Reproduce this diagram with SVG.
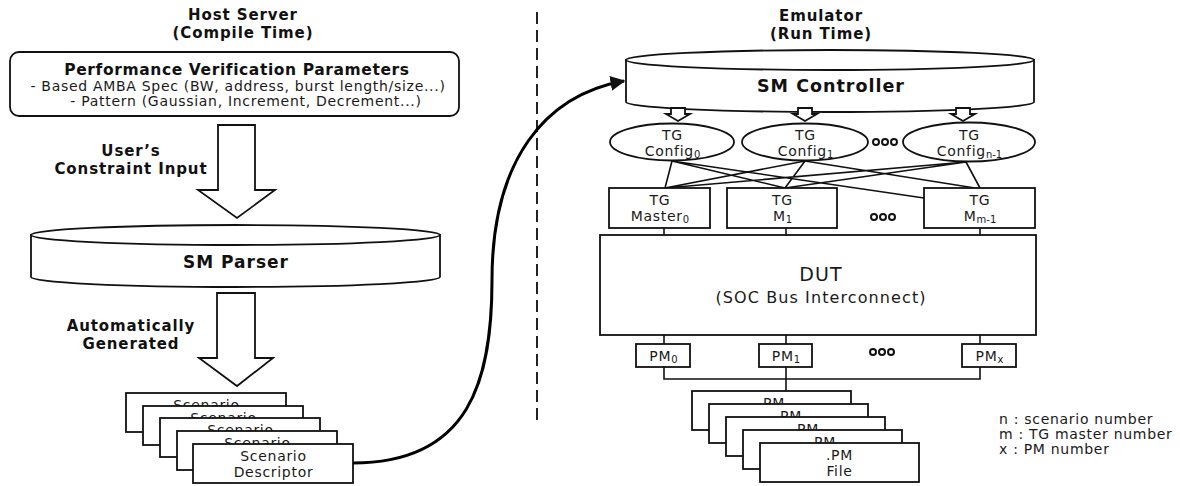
<svg xmlns="http://www.w3.org/2000/svg" width="1180" height="486" viewBox="0 0 1180 486">
<defs>
<style>
text{font-family:"DejaVu Sans","Liberation Sans",sans-serif;fill:#1a1a1a;letter-spacing:0.7px}
.b{font-weight:bold;fill:#111;letter-spacing:0.9px}
.big{letter-spacing:1.1px}
.box{fill:#fff;stroke:#111;stroke-width:1.8}
.ln{fill:none;stroke:#111;stroke-width:1.6}
.dots circle{fill:none;stroke:#111;stroke-width:2}
.t14{font-size:14px}
.sub{font-size:10px;letter-spacing:0}
</style>
<marker id="ah" viewBox="0 0 10 10" refX="9" refY="5" markerWidth="5" markerHeight="5" orient="auto" markerUnits="strokeWidth"><path d="M0,0 L10,5 L0,10 z" fill="#111"/></marker>
</defs>
<rect width="1180" height="486" fill="#fff"/>

<g id="titles">
<text class="b" x="243" y="20" font-size="15" text-anchor="middle">Host Server</text>
<text class="b" x="243" y="38" font-size="15" text-anchor="middle">(Compile Time)</text>
<text class="b" x="821" y="21" font-size="15" text-anchor="middle">Emulator</text>
<text class="b" x="821" y="39" font-size="15" text-anchor="middle">(Run Time)</text>
</g>

<line id="divider" x1="537" y1="12" x2="537" y2="420" stroke="#222" stroke-width="2" stroke-dasharray="12 6"/>

<g id="params">
<rect class="box" x="10" y="52" width="449" height="64" rx="9"/>
<text class="b" x="237" y="75" font-size="15.5" text-anchor="middle" style="letter-spacing:0.6px">Performance Verification Parameters</text>
<text x="238" y="91" font-size="14" text-anchor="middle">-  Based AMBA Spec (BW, address, burst length/size...)</text>
<text x="246" y="106" font-size="14" text-anchor="middle">-  Pattern (Gaussian, Increment, Decrement...)</text>
</g>

<g id="arrow-input">
<polygon class="box" points="218,125 255,125 255,190 275,190 237,218 198,190 218,190"/>
<text class="b" x="131" y="156" font-size="15" text-anchor="middle">User’s</text>
<text class="b" x="131" y="174" font-size="15" text-anchor="middle">Constraint Input</text>
</g>

<g id="sm-parser">
<path class="box" d="M31,235 L31,277 A204.5,10 0 0 0 440,277 L440,235 Z"/>
<ellipse class="box" cx="235.5" cy="235" rx="204.5" ry="10"/>
<text class="b" x="236" y="268" font-size="17" text-anchor="middle" style="letter-spacing:1px">SM Parser</text>
</g>

<g id="arrow-generated">
<polygon class="box" points="217,293 255,293 255,358 273,358 237,386 199,358 217,358"/>
<text class="b" x="131" y="331" font-size="15" text-anchor="middle">Automatically</text>
<text class="b" x="131" y="349" font-size="15" text-anchor="middle">Generated</text>
</g>

<g id="scenarios" class="t14">
<rect class="box" x="126" y="393" width="160" height="39"/>
<text x="206.5" y="410" text-anchor="middle">Scenario</text>
<rect class="box" x="143" y="406" width="160" height="39"/>
<text x="223.5" y="423" text-anchor="middle">Scenario</text>
<rect class="box" x="160" y="418" width="160" height="39"/>
<text x="240.5" y="435" text-anchor="middle">Scenario</text>
<rect class="box" x="177" y="431" width="160" height="39"/>
<text x="257.5" y="448" text-anchor="middle">Scenario</text>
<rect class="box" x="193" y="444" width="160" height="39"/>
<text x="273.5" y="461" text-anchor="middle">Scenario</text>
<text x="273.5" y="477" text-anchor="middle">Descriptor</text>
</g>

<g id="sm-controller">
<path class="box" d="M626,60 L626,102 A204,10 0 0 0 1034,102 L1034,60 Z"/>
<ellipse class="box" cx="830" cy="60" rx="204" ry="10"/>
<text class="b" x="831" y="92" font-size="17.5" text-anchor="middle" style="letter-spacing:1px">SM Controller</text>
</g>

<g id="ctrl-arrows">
<polygon class="box" points="671,108 685,108 685,114 690,114 678,121 666,114 671,114"/>
<polygon class="box" points="798,108 812,108 812,114 817,114 805,121 793,114 798,114"/>
<polygon class="box" points="956,108 970,108 970,114 975,114 963,121 951,114 956,114"/>
</g>

<g id="connectors">
<path class="ln" d="M672,161 L665,188 M672,161 L785,188 M672,161 L924,198 M805,161 L665,188 M805,161 L785,188 M805,161 L975,188 M966,162 L665,188 M966,162 L785,188 M966,162 L980,188"/>
<path class="ln" d="M664,228 V235 M786,228 V235 M980,228 V235"/>
<path class="ln" d="M664,335 V344 M786,335 V344 M980,335 V344"/>
<path class="ln" d="M664,367 V379 H980 V367 M786,367 V391"/>
<path d="M353,463 C470,463 492,380 492,280 C492,160 545,95 624,81" fill="none" stroke="#000" stroke-width="3" marker-end="url(#ah)"/>
</g>

<g id="tg-config0" class="t14">
<ellipse class="box" cx="672" cy="142" rx="62" ry="18.5"/>
<text x="672.5" y="140" text-anchor="middle">TG</text>
<text x="672.5" y="156" text-anchor="middle">Config<tspan class="sub" dy="2">0</tspan></text>
</g>
<g id="tg-config1" class="t14">
<ellipse class="box" cx="805" cy="142" rx="63" ry="18.5"/>
<text x="805.5" y="140" text-anchor="middle">TG</text>
<text x="805.5" y="156" text-anchor="middle">Config<tspan class="sub" dy="2">1</tspan></text>
</g>
<g id="tg-confign" class="t14">
<ellipse class="box" cx="969" cy="142" rx="66" ry="19.5"/>
<text x="969.5" y="140" text-anchor="middle">TG</text>
<text x="969.5" y="156" text-anchor="middle">Config<tspan class="sub" dy="2">n-1</tspan></text>
</g>
<g class="dots" id="dots-config"><circle cx="876" cy="142" r="3"/><circle cx="885" cy="142" r="3"/><circle cx="894" cy="142" r="3"/></g>

<g id="tg-master0" class="t14">
<rect class="box" x="609" y="188" width="101" height="40"/>
<text x="660" y="205" text-anchor="middle">TG</text>
<text x="660" y="221" text-anchor="middle">Master<tspan class="sub" dy="2">0</tspan></text>
</g>
<g id="tg-m1" class="t14">
<rect class="box" x="727" y="188" width="110" height="40"/>
<text x="782.5" y="205" text-anchor="middle">TG</text>
<text x="782.5" y="221" text-anchor="middle">M<tspan class="sub" dy="2">1</tspan></text>
</g>
<g id="tg-mm" class="t14">
<rect class="box" x="924" y="188" width="111" height="40"/>
<text x="980" y="205" text-anchor="middle">TG</text>
<text x="980" y="221" text-anchor="middle">M<tspan class="sub" dy="2">m-1</tspan></text>
</g>
<g class="dots" id="dots-master"><circle cx="874" cy="217" r="3"/><circle cx="883" cy="217" r="3"/><circle cx="892" cy="217" r="3"/></g>

<g id="dut">
<rect class="box" x="600" y="235" width="436" height="100"/>
<text class="big" x="821" y="281" font-size="19" text-anchor="middle">DUT</text>
<text class="big" x="821" y="303" font-size="16" text-anchor="middle">(SOC Bus Interconnect)</text>
</g>

<g id="pm0" class="t14">
<rect class="box" x="636" y="344" width="54" height="23"/>
<text x="663.5" y="361" text-anchor="middle">PM<tspan class="sub" dy="2">0</tspan></text>
</g>
<g id="pm1" class="t14">
<rect class="box" x="759" y="344" width="53" height="23"/>
<text x="786" y="361" text-anchor="middle">PM<tspan class="sub" dy="2">1</tspan></text>
</g>
<g id="pmx" class="t14">
<rect class="box" x="962" y="344" width="54" height="23"/>
<text x="989.5" y="361" text-anchor="middle">PM<tspan class="sub" dy="2">x</tspan></text>
</g>
<g class="dots" id="dots-pm"><circle cx="873" cy="352" r="3"/><circle cx="882" cy="352" r="3"/><circle cx="891" cy="352" r="3"/></g>

<g id="pm-files" class="t14">
<rect class="box" x="692" y="391" width="159" height="39"/>
<text x="771.5" y="408" text-anchor="middle">.PM</text>
<rect class="box" x="709" y="404" width="159" height="39"/>
<text x="788.5" y="421" text-anchor="middle">.PM</text>
<rect class="box" x="726" y="417" width="159" height="39"/>
<text x="805.5" y="434" text-anchor="middle">.PM</text>
<rect class="box" x="743" y="430" width="159" height="39"/>
<text x="822.5" y="447" text-anchor="middle">.PM</text>
<rect class="box" x="760" y="443" width="159" height="39"/>
<text x="839.5" y="460" text-anchor="middle">.PM</text>
<text x="839.5" y="476" text-anchor="middle">File</text>
</g>

<g id="legend" font-size="14">
<text x="999" y="424">n : scenario number</text>
<text x="999" y="439">m : TG master number</text>
<text x="999" y="454">x  : PM number</text>
</g>
</svg>
